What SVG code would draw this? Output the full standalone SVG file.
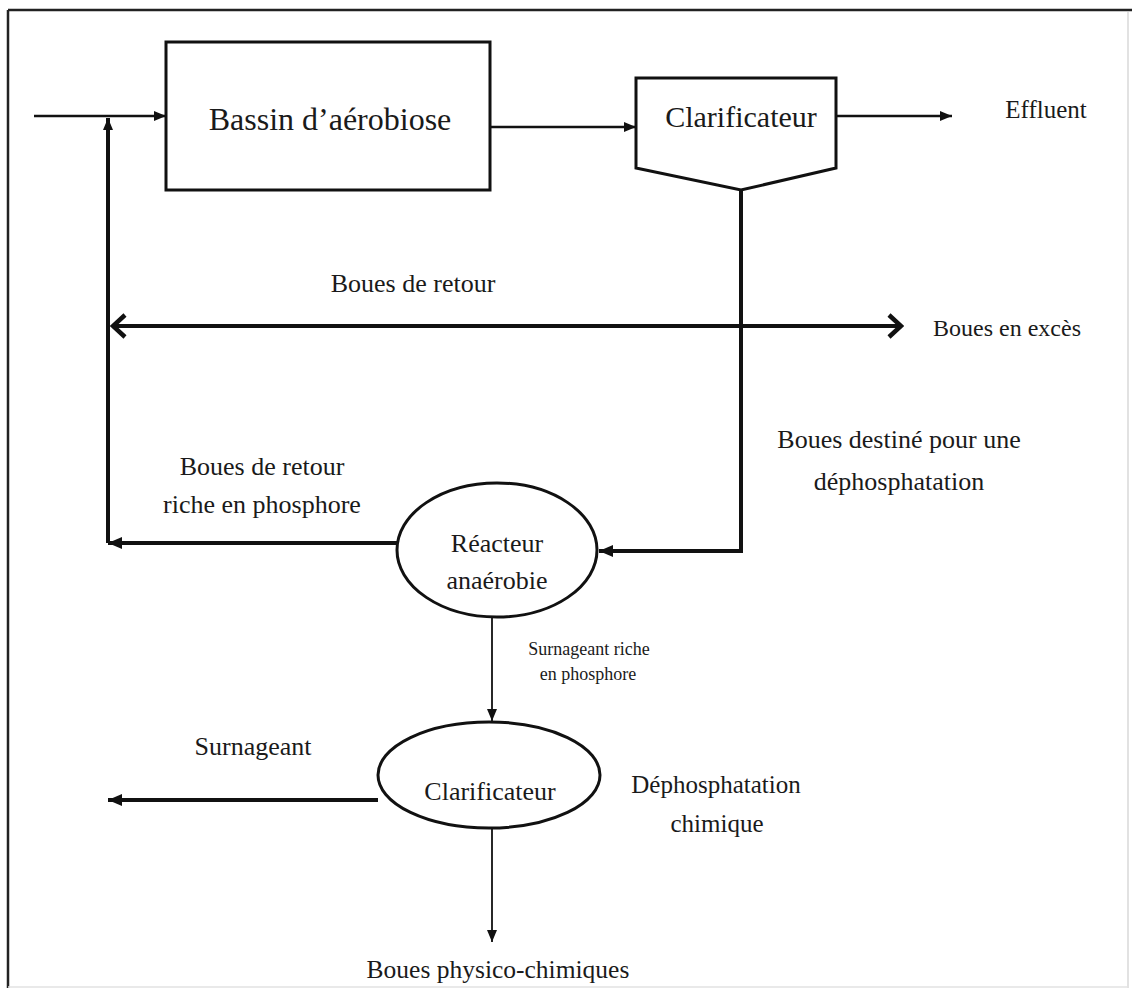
<svg xmlns="http://www.w3.org/2000/svg" width="1132" height="990" viewBox="0 0 1132 990">
  <style>
    text { font-family: "Liberation Serif", "Times New Roman", serif; fill: #1a1a1a; text-anchor: middle; }
    .shape { fill: #ffffff; stroke: #111111; stroke-width: 3; }
    .thin { fill: none; stroke: #111111; stroke-width: 1.8; }
    .mid { fill: none; stroke: #111111; stroke-width: 2.5; }
    .thick { fill: none; stroke: #111111; stroke-width: 4; }
  </style>
  <defs>
    <marker id="tri" viewBox="0 0 12 10" refX="12" refY="5" markerWidth="12" markerHeight="10" markerUnits="userSpaceOnUse" orient="auto">
      <path d="M0,0 L12,5 L0,10 z" fill="#111111"/>
    </marker>
    <marker id="triBig" viewBox="0 0 14 12" refX="14" refY="6" markerWidth="14" markerHeight="12" markerUnits="userSpaceOnUse" orient="auto">
      <path d="M0,0 L14,6 L0,12 z" fill="#111111"/>
    </marker>
    <marker id="chev" viewBox="0 0 18 26" refX="16" refY="13" markerWidth="18" markerHeight="26" markerUnits="userSpaceOnUse" orient="auto-start-reverse">
      <path d="M3,2 L15,13 L3,24" fill="none" stroke="#111111" stroke-width="4.5"/>
    </marker>
  </defs>

  <rect x="0" y="0" width="1132" height="990" fill="#ffffff"/>

  <!-- page frame -->
  <g id="frame">
    <line x1="8" y1="10" x2="1132" y2="10" stroke="#222222" stroke-width="2.5"/>
    <line x1="8" y1="10" x2="8" y2="988" stroke="#222222" stroke-width="2.5"/>
    <line x1="1128" y1="12" x2="1128" y2="988" stroke="#d8d8d8" stroke-width="1.5"/>
    <line x1="8" y1="987" x2="1128" y2="987" stroke="#e2e2e2" stroke-width="1.5"/>
  </g>

  <!-- flow lines -->
  <g id="connectors">
    <path class="mid" d="M34,116 H166" marker-end="url(#tri)"/>
    <path class="thick" d="M108,543 V118" marker-end="url(#tri)"/>
    <path class="mid" d="M490,127 H636" marker-end="url(#tri)"/>
    <path class="mid" d="M836,116 H952" marker-end="url(#tri)"/>
    <path class="thick" d="M741,190 V551 H599" marker-end="url(#triBig)"/>
    <path class="thick" d="M112,326 H902" marker-start="url(#chev)" marker-end="url(#chev)"/>
    <path class="thick" d="M397,543 H108" marker-end="url(#triBig)"/>
    <path class="thin" d="M492,617 V721" marker-end="url(#tri)"/>
    <path class="thick" d="M378,800 H108" marker-end="url(#triBig)"/>
    <path class="thin" d="M492,828 V942" marker-end="url(#tri)"/>
  </g>

  <g id="bassin">
    <rect class="shape" x="166" y="42" width="324" height="148"/>
    <text x="330" y="130" font-size="32">Bassin d’aérobiose</text>
  </g>

  <g id="clarificateur-1">
    <path class="shape" d="M636,78 H836 V168 L741,190 L636,168 z"/>
    <text x="741" y="127" font-size="30">Clarificateur</text>
  </g>

  <g id="reacteur">
    <ellipse class="shape" cx="497" cy="550" rx="100" ry="67"/>
    <text x="497" y="552" font-size="26">Réacteur</text>
    <text x="497" y="589" font-size="26">anaérobie</text>
  </g>

  <g id="clarificateur-2">
    <ellipse class="shape" cx="489" cy="775" rx="111" ry="53"/>
    <text x="490" y="800" font-size="26">Clarificateur</text>
  </g>

  <!-- flow labels -->
  <g id="labels">
    <text x="1046" y="118" font-size="25">Effluent</text>
    <text x="413" y="292" font-size="26">Boues de retour</text>
    <text x="1007" y="336" font-size="24">Boues en excès</text>
    <text x="899" y="448" font-size="26">Boues destiné pour une</text>
    <text x="899" y="490" font-size="26">déphosphatation</text>
    <text x="262" y="475" font-size="26">Boues de retour</text>
    <text x="262" y="513" font-size="26">riche en phosphore</text>
    <text x="589" y="655" font-size="18">Surnageant riche</text>
    <text x="588" y="680" font-size="18">en phosphore</text>
    <text x="253" y="755" font-size="26">Surnageant</text>
    <text x="716" y="793" font-size="25">Déphosphatation</text>
    <text x="717" y="832" font-size="25">chimique</text>
    <text x="498" y="978" font-size="25.5">Boues physico-chimiques</text>
  </g>
</svg>
